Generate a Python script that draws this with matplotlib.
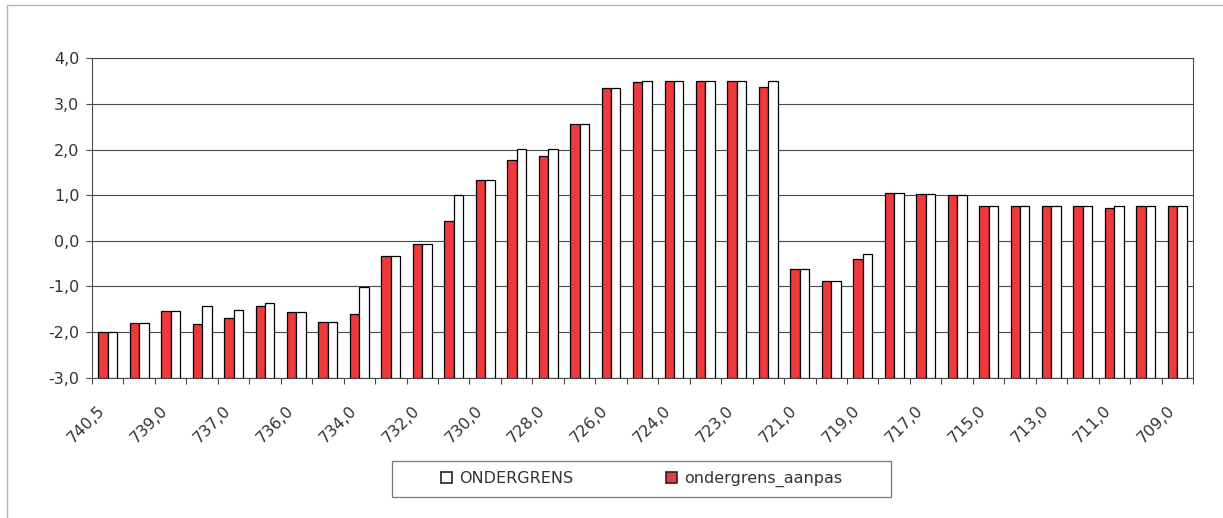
import matplotlib
matplotlib.use("Agg")
import matplotlib.pyplot as plt
from matplotlib.patches import Rectangle, Patch
import numpy as np

categories = ['740,5', '740,0', '739,0', '738,0', '737,0', '736,5', '736,0', '735,0',
              '734,0', '733,0', '732,0', '731,0', '730,0', '729,0', '728,0', '727,0',
              '726,0', '725,0', '724,0', '723,5', '723,0', '722,0', '721,0', '720,0',
              '719,0', '718,0', '717,0', '716,0', '715,0', '714,0', '713,0', '712,0',
              '711,0', '710,0', '709,0']

ondergrens_aanpas = [-2.00, -1.80, -1.53, -1.82, -1.69, -1.42, -1.55, -1.78, -1.60, -0.33,
                     -0.06, 0.44, 1.34, 1.78, 1.85, 2.56, 3.35, 3.48, 3.51, 3.51,
                     3.51, 3.37, -0.62, -0.88, -0.40, 1.05, 1.02, 1.01, 0.76, 0.76,
                     0.76, 0.76, 0.72, 0.76, 0.76]

ONDERGRENS = [-2.00, -1.80, -1.53, -1.42, -1.51, -1.37, -1.55, -1.78, -1.01, -0.33,
              -0.06, 1.01, 1.34, 2.02, 2.02, 2.56, 3.35, 3.51, 3.51, 3.51,
              3.51, 3.51, -0.62, -0.88, -0.29, 1.05, 1.02, 1.01, 0.76, 0.76,
              0.76, 0.76, 0.76, 0.76, 0.76]

y_ticks = [-3.0, -2.0, -1.0, 0.0, 1.0, 2.0, 3.0, 4.0]

W, H = 1223, 518
DPI = 100
TXT = '#333333'
GRID = '#4A4A4A'
RED = '#EE3A3C'

plt.rcParams['font.family'] = ['DejaVu Sans']

fig = plt.figure(figsize=(W / DPI, H / DPI), dpi=DPI)
fig.patch.set_facecolor('white')

# outer chart border (cropped at right and bottom)
fig.patches.append(Rectangle((7 / W, -0.1), 1.2, 1.1 - 5 / H, transform=fig.transFigure,
                             fill=False, edgecolor='#B0B6B6', lw=1.0))

left, right = 92 / W, 1193 / W
bottom, top = 1 - 377.7 / H, 1 - 58.3 / H
ax = fig.add_axes([left, bottom, right - left, top - bottom])

ymin, ymax = y_ticks[0], y_ticks[-1]
x = np.arange(len(categories))
bw = 0.30
red_vals = np.array(ondergrens_aanpas)
white_vals = np.array(ONDERGRENS)

ax.bar(x - bw / 2, red_vals - ymin, bottom=ymin, width=bw, color=RED,
       edgecolor='black', linewidth=0.9, zorder=3)
ax.bar(x + bw / 2, white_vals - ymin, bottom=ymin, width=bw, color='white',
       edgecolor='black', linewidth=0.9, zorder=3)

ax.set_xlim(-0.5, len(categories) - 0.5)
ax.set_ylim(ymin, ymax)

ax.set_yticks(y_ticks)
ax.set_yticklabels([f"{v:.1f}".replace('.', ',') for v in y_ticks],
                   color=TXT, fontsize=11.5)
ax.yaxis.grid(True, color=GRID, lw=0.8, zorder=0)
ax.tick_params(axis='y', length=4, width=0.8, color=GRID, pad=5)

ax.set_xticks(x[::2])
ax.set_xticklabels(categories[::2], rotation=45, ha='right', color=TXT, fontsize=11.5)
ax.set_xticks(np.arange(-0.5, len(categories), 1.0), minor=True)
ax.tick_params(axis='x', which='major', length=0, pad=18)
ax.tick_params(axis='x', which='minor', length=4, width=0.8, color=GRID)

for s in ax.spines.values():
    s.set_color(GRID)
    s.set_linewidth(0.8)

# legend
handles = [Patch(facecolor='white', edgecolor='#222222', lw=1.2),
           Patch(facecolor=RED, edgecolor='#222222', lw=1.2)]
labels = ['ONDERGRENS', 'ondergrens_aanpas']
leg = fig.legend(handles, labels, loc='center', bbox_to_anchor=(641.5 / W, 1 - 479 / H),
                 ncol=2, frameon=False, fontsize=11.5, handlelength=0.7,
                 handleheight=0.7, handletextpad=0.45, columnspacing=5.8,
                 labelcolor=TXT)
fig.patches.append(Rectangle((392 / W, 1 - 497 / H), (891 - 392) / W, 36 / H,
                             transform=fig.transFigure, fill=False,
                             edgecolor='#777777', lw=0.9))

fig.savefig('out.png', dpi=DPI, facecolor='white')
